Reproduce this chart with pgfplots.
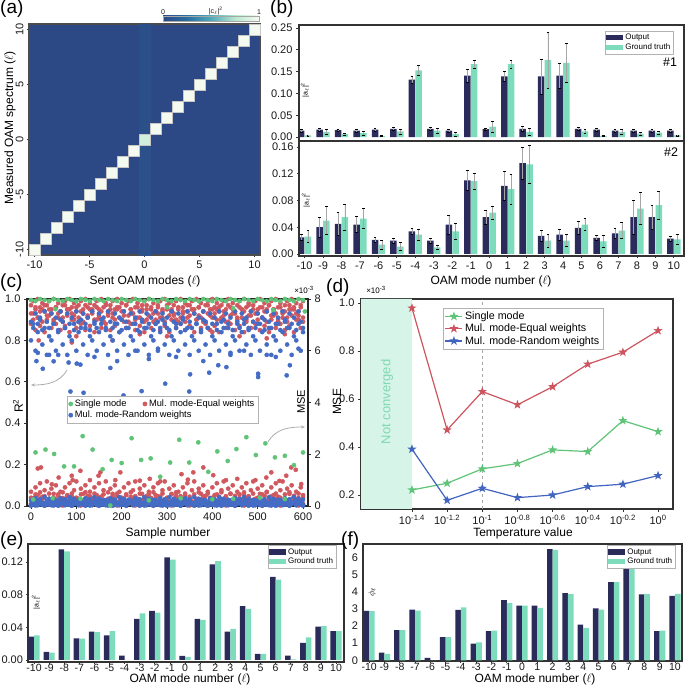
\documentclass[border=0pt]{standalone}
\usepackage{fontspec}
\setmainfont{Liberation Sans}
\usepackage{pgfplots}
\usepackage{pgfplotstable}
\pgfplotsset{compat=1.18}
\usetikzlibrary{arrows.meta}

\definecolor{navy}{RGB}{42,43,90}
\definecolor{mint}{RGB}{125,220,188}
\definecolor{gS}{RGB}{95,195,120}
\definecolor{rS}{RGB}{208,88,95}
\definecolor{bS}{RGB}{68,108,196}
\definecolor{gL}{RGB}{95,195,120}
\definecolor{rL}{RGB}{205,85,95}
\definecolor{bL}{RGB}{65,100,190}
\definecolor{ncfill}{RGB}{214,245,232}
\definecolor{nctext}{RGB}{130,215,180}
\definecolor{hmbg}{RGB}{44,73,133}

\pgfplotsset{colormap={hm}{rgb255=(44,73,133) rgb255=(40,110,160) rgb255=(80,170,185) rgb255=(185,232,205) rgb255=(245,250,240)}}

\pgfdeclareplotmark{fstar}{%
  \pgfpathmoveto{\pgfpoint{0pt}{\pgfplotmarksize}}%
  \pgfpathlineto{\pgfpoint{-0.235\pgfplotmarksize}{0.324\pgfplotmarksize}}%
  \pgfpathlineto{\pgfpoint{-0.951\pgfplotmarksize}{0.309\pgfplotmarksize}}%
  \pgfpathlineto{\pgfpoint{-0.380\pgfplotmarksize}{-0.124\pgfplotmarksize}}%
  \pgfpathlineto{\pgfpoint{-0.588\pgfplotmarksize}{-0.809\pgfplotmarksize}}%
  \pgfpathlineto{\pgfpoint{0pt}{-0.4\pgfplotmarksize}}%
  \pgfpathlineto{\pgfpoint{0.588\pgfplotmarksize}{-0.809\pgfplotmarksize}}%
  \pgfpathlineto{\pgfpoint{0.380\pgfplotmarksize}{-0.124\pgfplotmarksize}}%
  \pgfpathlineto{\pgfpoint{0.951\pgfplotmarksize}{0.309\pgfplotmarksize}}%
  \pgfpathlineto{\pgfpoint{0.235\pgfplotmarksize}{0.324\pgfplotmarksize}}%
  \pgfpathclose
  \pgfusepathqfillstroke}

\newcommand{\tk}{\fontsize{11}{12}\selectfont}
\newcommand{\tks}{\fontsize{10.5}{12}\selectfont}
\newcommand{\lab}{\fontsize{12}{14}\selectfont}
\newcommand{\pan}{\fontsize{19}{22}\selectfont}
\newcommand{\al}{|a\textsubscript{$\ell$}|\textsuperscript{2}}

\pgfplotsset{
  panel/.style={scale only axis, anchor=south west,
    axis line style={-, line width=1.1pt, black!80},
    tick align=outside, major tick length=3pt, tick pos=left,
    tick style={black!80, line width=0.8pt},
    ticklabel style={font=\tk, text=black!90},
    /pgf/number format/assume math mode=true},
  ybar legend/.style={/pgfplots/legend image code/.code={\fill[##1, draw=none] (0pt,-2.6pt) rectangle (17pt,2.6pt);}},
  barleg/.style={
    legend style={draw=gray!60, line width=0.5pt, font=\fontsize{8}{9}\selectfont,
      inner sep=1pt, row sep=-1.5pt, cells={anchor=west}, anchor=north west}},
  errs/.style={error bars/.cd, y dir=both, y explicit,
    error bar style={line width=0.5pt, gray!70},
    error mark options={rotate=90, mark size=1.4pt, black, line width=0.5pt}},
  dots/.style={only marks, mark=*, mark size=2.1pt, forget plot},
  two/.style={/pgf/number format/fixed, /pgf/number format/fixed zerofill, /pgf/number format/precision=2},
  one/.style={/pgf/number format/fixed, /pgf/number format/fixed zerofill, /pgf/number format/precision=1},
}

% panel (b) #1
\pgfplotstableread{
x o oe g ge
-10 0.015 0.003 0.004 0.001
-9 0.017 0.003 0.012 0.005
-8 0.016 0.003 0.007 0.002
-7 0.015 0.003 0.009 0.004
-6 0.017 0.003 0.003 0.001
-5 0.019 0.004 0.013 0.006
-4 0.132 0.008 0.153 0.011
-3 0.019 0.004 0.015 0.006
-2 0.015 0.003 0.007 0.004
-1 0.141 0.015 0.167 0.010
0 0.018 0.003 0.024 0.012
1 0.139 0.011 0.167 0.010
2 0.019 0.005 0.012 0.008
3 0.139 0.040 0.177 0.064
4 0.141 0.029 0.170 0.044
5 0.019 0.004 0.013 0.005
6 0.017 0.003 0.003 0.001
7 0.015 0.003 0.012 0.005
8 0.015 0.003 0.008 0.003
9 0.015 0.003 0.010 0.003
10 0.015 0.003 0.004 0.001
}\tbBa
% panel (b) #2
\pgfplotstableread{
x o oe g ge
-10 0.025 0.005 0.026 0.009
-9 0.040 0.015 0.050 0.021
-8 0.045 0.017 0.055 0.020
-7 0.044 0.012 0.053 0.015
-6 0.021 0.004 0.014 0.007
-5 0.020 0.004 0.011 0.006
-4 0.034 0.005 0.029 0.008
-3 0.020 0.004 0.010 0.003
-2 0.044 0.014 0.034 0.012
-1 0.110 0.015 0.109 0.012
0 0.055 0.010 0.062 0.010
1 0.102 0.022 0.097 0.022
2 0.136 0.024 0.134 0.028
3 0.027 0.008 0.020 0.010
4 0.029 0.008 0.020 0.009
5 0.039 0.010 0.044 0.009
6 0.024 0.004 0.019 0.009
7 0.031 0.008 0.035 0.012
8 0.055 0.025 0.068 0.024
9 0.055 0.018 0.073 0.021
10 0.023 0.004 0.022 0.008
}\tbBb
% panel (e)
\pgfplotstableread{
x o g
-10 0.0285 0.030
-9 0.0098 0.009
-8 0.1355 0.133
-7 0.0265 0.026
-6 0.0346 0.034
-5 0.030 0.0354
-4 0.0053 0
-3 0.0504 0.057
-2 0.060 0.058
-1 0.1257 0.123
0 0.005 0.0037
1 0.0504 0.049
2 0.117 0.121
3 0.0346 0.038
4 0.066 0.0627
5 0.0073 0.0073
6 0.1017 0.0985
7 0.0053 0.0008
8 0.021 0.0277
9 0.0407 0.0415
10 0.0354 0.0354
}\tbE
% panel (f)
\pgfplotstableread{
x o g
-10 2.89 2.87
-9 0.45 0.37
-8 1.76 1.76
-7 2.97 2.91
-6 0.14 0.0
-5 1.35 1.35
-4 2.95 3.10
-3 0.98 1.05
-2 1.70 1.74
-1 3.52 3.34
0 3.20 3.20
1 3.20 3.07
2 6.50 6.46
3 3.93 3.87
4 2.09 1.89
5 3.03 2.97
6 4.57 4.57
7 5.60 5.53
8 3.85 3.89
9 1.70 1.74
10 3.77 3.89
}\tbF
% panel (c): samples; r = equal weights, b = random weights; a-c R^2, d-f MSE (x1e-3)
\pgfplotstableread{
x ra rb rc rd re rf ba bb bc bd be
0 0.97 0.93 0.88 0.08 0.32 0.55 0.89 0.80 0.05 0.22 0.01
5 0.99 0.90 0.93 0.21 0.14 0.31 0.86 0.88 0.12 0.15 0.08
10 0.95 0.96 0.85 0.04 0.45 0.72 0.93 0.75 0.02 0.30 0.14
15 1.00 0.91 0.91 0.15 0.22 0.42 0.88 0.84 0.09 0.18 0.03
20 0.96 0.94 0.87 0.27 0.53 0.88 0.91 0.90 0.16 0.26 0.19
25 0.98 0.89 0.95 0.11 0.27 0.36 0.85 0.78 0.04 0.12 0.06
30 0.94 0.97 0.84 0.02 0.38 0.61 0.94 0.86 0.11 0.34 0.01
35 0.97 0.92 0.90 0.18 0.12 0.95 0.89 0.73 0.07 0.20 0.08
40 0.99 0.95 0.92 0.08 0.48 0.28 0.86 0.82 0.05 0.28 0.14
45 0.95 0.93 0.86 0.21 0.19 0.67 0.93 0.80 0.12 0.16 0.03
50 1.00 0.90 0.89 0.04 0.32 0.47 0.88 0.88 0.02 0.24 0.19
55 0.96 0.96 0.88 0.15 0.14 0.80 0.91 0.75 0.09 0.22 0.06
60 0.98 0.91 0.93 0.27 0.45 0.39 0.85 0.84 0.16 0.15 0.01
65 0.94 0.94 0.85 0.11 0.22 0.55 0.94 0.90 0.04 0.30 0.08
70 0.97 0.89 0.91 0.02 0.53 0.31 0.89 0.78 0.11 0.18 0.14
75 0.99 0.97 0.87 0.18 0.27 0.72 0.86 0.86 0.07 0.26 0.03
80 0.95 0.92 0.95 0.08 0.38 0.42 0.93 0.73 0.05 0.12 0.19
85 1.00 0.95 0.84 0.21 0.12 0.88 0.88 0.82 0.12 0.34 0.06
90 0.96 0.93 0.90 0.04 0.48 0.36 0.91 0.80 0.02 0.20 0.01
95 0.98 0.90 0.92 0.15 0.19 0.61 0.85 0.88 0.09 0.28 0.08
100 0.94 0.96 0.86 0.27 0.32 0.95 0.94 0.75 0.16 0.16 0.14
105 0.97 0.91 0.89 0.11 0.14 0.28 0.89 0.84 0.04 0.24 0.03
110 0.99 0.94 0.88 0.02 0.45 0.67 0.86 0.90 0.11 0.22 0.19
115 0.95 0.89 0.93 0.18 0.22 0.47 0.93 0.78 0.07 0.15 0.06
120 1.00 0.97 0.85 0.08 0.53 0.80 0.88 0.86 0.05 0.30 0.01
125 0.96 0.92 0.91 0.21 0.27 0.39 0.91 0.73 0.12 0.18 0.08
130 0.98 0.95 0.87 0.04 0.38 0.55 0.85 0.82 0.02 0.26 0.14
135 0.94 0.93 0.95 0.15 0.12 0.31 0.94 0.80 0.09 0.12 0.03
140 0.97 0.90 0.84 0.27 0.48 0.72 0.89 0.88 0.16 0.34 0.19
145 0.99 0.96 0.90 0.11 0.19 0.42 0.86 0.75 0.04 0.20 0.06
150 0.95 0.91 0.92 0.02 0.32 0.88 0.93 0.84 0.11 0.28 0.01
155 1.00 0.94 0.86 0.18 0.14 0.36 0.88 0.90 0.07 0.16 0.08
160 0.96 0.89 0.89 0.08 0.45 0.61 0.91 0.78 0.05 0.24 0.14
165 0.98 0.97 0.88 0.21 0.22 0.95 0.85 0.86 0.12 0.22 0.03
170 0.94 0.92 0.93 0.04 0.53 0.28 0.94 0.73 0.02 0.15 0.19
175 0.97 0.95 0.85 0.15 0.27 0.67 0.89 0.82 0.09 0.30 0.06
180 0.99 0.93 0.91 0.27 0.38 0.47 0.86 0.80 0.16 0.18 0.01
185 0.95 0.90 0.87 0.11 0.12 0.80 0.93 0.88 0.04 0.26 0.08
190 1.00 0.96 0.95 0.02 0.48 0.39 0.88 0.75 0.11 0.12 0.14
195 0.96 0.91 0.84 0.18 0.19 0.55 0.91 0.84 0.07 0.34 0.03
200 0.98 0.94 0.90 0.08 0.32 0.31 0.85 0.90 0.05 0.20 0.19
205 0.94 0.89 0.92 0.21 0.14 0.72 0.94 0.78 0.12 0.28 0.06
210 0.97 0.97 0.86 0.04 0.45 0.42 0.89 0.86 0.02 0.16 0.01
215 0.99 0.92 0.89 0.15 0.22 0.88 0.86 0.73 0.09 0.24 0.08
220 0.95 0.95 0.88 0.27 0.53 0.36 0.93 0.82 0.16 0.22 0.14
225 1.00 0.93 0.93 0.11 0.27 0.61 0.88 0.80 0.04 0.15 0.03
230 0.96 0.90 0.85 0.02 0.38 0.95 0.91 0.88 0.11 0.30 0.19
235 0.98 0.96 0.91 0.18 0.12 0.28 0.85 0.75 0.07 0.18 0.06
240 0.94 0.91 0.87 0.08 0.48 0.67 0.94 0.84 0.05 0.26 0.01
245 0.97 0.94 0.95 0.21 0.19 0.47 0.89 0.90 0.12 0.12 0.08
250 0.99 0.89 0.84 0.04 0.32 0.80 0.86 0.78 0.02 0.34 0.14
255 0.95 0.97 0.90 0.15 0.14 0.39 0.93 0.86 0.09 0.20 0.03
260 1.00 0.92 0.92 0.27 0.45 0.55 0.88 0.73 0.16 0.28 0.19
265 0.96 0.95 0.86 0.11 0.22 0.31 0.91 0.82 0.04 0.16 0.06
270 0.98 0.93 0.89 0.02 0.53 0.72 0.85 0.80 0.11 0.24 0.01
275 0.94 0.90 0.88 0.18 0.27 0.42 0.94 0.88 0.07 0.22 0.08
280 0.97 0.96 0.93 0.08 0.38 0.88 0.89 0.75 0.05 0.15 0.14
285 0.99 0.91 0.85 0.21 0.12 0.36 0.86 0.84 0.12 0.30 0.03
290 0.95 0.94 0.91 0.04 0.48 0.61 0.93 0.90 0.02 0.18 0.19
295 1.00 0.89 0.87 0.15 0.19 0.95 0.88 0.78 0.09 0.26 0.06
300 0.96 0.97 0.95 0.27 0.32 0.28 0.91 0.86 0.16 0.12 0.01
305 0.98 0.92 0.84 0.11 0.14 0.67 0.85 0.73 0.04 0.34 0.08
310 0.94 0.95 0.90 0.02 0.45 0.47 0.94 0.82 0.11 0.20 0.14
315 0.97 0.93 0.92 0.18 0.22 0.80 0.89 0.80 0.07 0.28 0.03
320 0.99 0.90 0.86 0.08 0.53 0.39 0.86 0.88 0.05 0.16 0.19
325 0.95 0.96 0.89 0.21 0.27 0.55 0.93 0.75 0.12 0.24 0.06
330 1.00 0.91 0.88 0.04 0.38 0.31 0.88 0.84 0.02 0.22 0.01
335 0.96 0.94 0.93 0.15 0.12 0.72 0.91 0.90 0.09 0.15 0.08
340 0.98 0.89 0.85 0.27 0.48 0.42 0.85 0.78 0.16 0.30 0.14
345 0.94 0.97 0.91 0.11 0.19 0.88 0.94 0.86 0.04 0.18 0.03
350 0.97 0.92 0.87 0.02 0.32 0.36 0.89 0.73 0.11 0.26 0.19
355 0.99 0.95 0.95 0.18 0.14 0.61 0.86 0.82 0.07 0.12 0.06
360 0.95 0.93 0.84 0.08 0.45 0.95 0.93 0.80 0.05 0.34 0.01
365 1.00 0.90 0.90 0.21 0.22 0.28 0.88 0.88 0.12 0.20 0.08
370 0.96 0.96 0.92 0.04 0.53 0.67 0.91 0.75 0.02 0.28 0.14
375 0.98 0.91 0.86 0.15 0.27 0.47 0.85 0.84 0.09 0.16 0.03
380 0.94 0.94 0.89 0.27 0.38 0.80 0.94 0.90 0.16 0.24 0.19
385 0.97 0.89 0.88 0.11 0.12 0.39 0.89 0.78 0.04 0.22 0.06
390 0.99 0.97 0.93 0.02 0.48 0.55 0.86 0.86 0.11 0.15 0.01
395 0.95 0.92 0.85 0.18 0.19 0.31 0.93 0.73 0.07 0.30 0.08
400 1.00 0.95 0.91 0.08 0.32 0.72 0.88 0.82 0.05 0.18 0.14
405 0.96 0.93 0.87 0.21 0.14 0.42 0.91 0.80 0.12 0.26 0.03
410 0.98 0.90 0.95 0.04 0.45 0.88 0.85 0.88 0.02 0.12 0.19
415 0.94 0.96 0.84 0.15 0.22 0.36 0.94 0.75 0.09 0.34 0.06
420 0.97 0.91 0.90 0.27 0.53 0.61 0.89 0.84 0.16 0.20 0.01
425 0.99 0.94 0.92 0.11 0.27 0.95 0.86 0.90 0.04 0.28 0.08
430 0.95 0.89 0.86 0.02 0.38 0.28 0.93 0.78 0.11 0.16 0.14
435 1.00 0.97 0.89 0.18 0.12 0.67 0.88 0.86 0.07 0.24 0.03
440 0.96 0.92 0.88 0.08 0.48 0.47 0.91 0.73 0.05 0.22 0.19
445 0.98 0.95 0.93 0.21 0.19 0.80 0.85 0.82 0.12 0.15 0.06
450 0.94 0.93 0.85 0.04 0.32 0.39 0.94 0.80 0.02 0.30 0.01
455 0.97 0.90 0.91 0.15 0.14 0.55 0.89 0.88 0.09 0.18 0.08
460 0.99 0.96 0.87 0.27 0.45 0.31 0.86 0.75 0.16 0.26 0.14
465 0.95 0.91 0.95 0.11 0.22 0.72 0.93 0.84 0.04 0.12 0.03
470 1.00 0.94 0.84 0.02 0.53 0.42 0.88 0.90 0.11 0.34 0.19
475 0.96 0.89 0.90 0.18 0.27 0.88 0.91 0.78 0.07 0.20 0.06
480 0.98 0.97 0.92 0.08 0.38 0.36 0.85 0.86 0.05 0.28 0.01
485 0.94 0.92 0.86 0.21 0.12 0.61 0.94 0.73 0.12 0.16 0.08
490 0.97 0.95 0.89 0.04 0.48 0.95 0.89 0.82 0.02 0.24 0.14
495 0.99 0.93 0.88 0.15 0.19 0.28 0.86 0.80 0.09 0.22 0.03
500 0.95 0.90 0.93 0.27 0.32 0.67 0.93 0.88 0.16 0.15 0.19
505 1.00 0.96 0.85 0.11 0.14 0.47 0.88 0.75 0.04 0.30 0.06
510 0.96 0.91 0.91 0.02 0.45 0.80 0.91 0.84 0.11 0.18 0.01
515 0.98 0.94 0.87 0.18 0.22 0.39 0.85 0.90 0.07 0.26 0.08
520 0.94 0.89 0.95 0.08 0.53 0.55 0.94 0.78 0.05 0.12 0.14
525 0.97 0.97 0.84 0.21 0.27 0.31 0.89 0.86 0.12 0.34 0.03
530 0.99 0.92 0.90 0.04 0.38 0.72 0.86 0.73 0.02 0.20 0.19
535 0.95 0.95 0.92 0.15 0.12 0.42 0.93 0.82 0.09 0.28 0.06
540 1.00 0.93 0.86 0.27 0.48 0.88 0.88 0.80 0.16 0.16 0.01
545 0.96 0.90 0.89 0.11 0.19 0.36 0.91 0.88 0.04 0.24 0.08
550 0.98 0.96 0.88 0.02 0.32 0.61 0.85 0.75 0.11 0.22 0.14
555 0.94 0.91 0.93 0.18 0.14 0.95 0.94 0.84 0.07 0.15 0.03
560 0.97 0.94 0.85 0.08 0.45 0.28 0.89 0.90 0.05 0.30 0.19
565 0.99 0.89 0.91 0.21 0.22 0.67 0.86 0.78 0.12 0.18 0.06
570 0.95 0.97 0.87 0.04 0.53 0.47 0.93 0.86 0.02 0.26 0.01
575 1.00 0.92 0.95 0.15 0.27 0.80 0.88 0.73 0.09 0.12 0.08
580 0.96 0.95 0.84 0.27 0.38 0.39 0.91 0.82 0.16 0.34 0.14
585 0.98 0.93 0.90 0.11 0.12 0.55 0.85 0.80 0.04 0.20 0.03
590 0.94 0.90 0.92 0.02 0.48 0.31 0.94 0.88 0.11 0.28 0.19
595 0.97 0.96 0.86 0.18 0.19 0.72 0.89 0.75 0.07 0.16 0.06
600 0.99 0.91 0.89 0.08 0.32 0.42 0.86 0.84 0.05 0.24 0.01
}\tbC

\begin{document}
\begin{tikzpicture}
\path[use as bounding box] (0pt,0pt) rectangle (685pt,685pt);

% ---------------- (a) heatmap
\begin{axis}[panel, at={(29pt,430pt)}, width=231pt, height=231pt,
  xmin=-10.5, xmax=10.5, ymin=-10.5, ymax=10.5,
  xtick={-10,-5,0,5,10}, ytick={-10,-5,0,5,10}, major tick length=2pt,
  yticklabel style={rotate=90, anchor=south},
  axis line style={-, line width=1.2pt, black!70},
  axis background/.style={fill=hmbg},
  colormap name=hm, point meta min=0, point meta max=1,
  colorbar horizontal,
  colorbar style={at={(0.58,1.013)}, anchor=south west, scale only axis,
    width=96pt, height=5pt, xtick={0,0.55,1},
    xticklabels={0,{|c\textsubscript{$\ell$}|\textsuperscript{2}},1},
    xticklabel pos=upper, major tick length=0pt,
    xticklabel style={font=\fontsize{7}{8}\selectfont, inner sep=1pt},
    axis line style={gray!70, line width=0.4pt}},
]
\addplot[scatter, only marks, mark=square*, mark size=5.5pt, point meta=explicit,
  scatter/use mapped color={draw=mapped color, fill=mapped color}]
 coordinates {(0,-10)[0.05] (0,-9)[0.05] (0,-8)[0.05] (0,-7)[0.05] (0,-6)[0.05]
 (0,-5)[0.05] (0,-4)[0.05] (0,-3)[0.05] (0,-2)[0.05] (0,-1)[0.05]
 (0,1)[0.04] (0,2)[0.04] (0,3)[0.04] (0,4)[0.04] (0,5)[0.04]
 (0,6)[0.04] (0,7)[0.04] (0,8)[0.04] (0,9)[0.04] (0,10)[0.04]};
\addplot[scatter, only marks, mark=square*, mark size=5.5pt, point meta=explicit,
  scatter/use mapped color={draw=gray!45, fill=mapped color, line width=0.4pt}]
 coordinates {(-10,-10)[1] (-9,-9)[1] (-8,-8)[1] (-7,-7)[1] (-6,-6)[1] (-5,-5)[1]
 (-4,-4)[1] (-3,-3)[1] (-2,-2)[1] (-1,-1)[1] (0,0)[0.85] (1,1)[1] (2,2)[1]
 (3,3)[1] (4,4)[1] (5,5)[1] (6,6)[1] (7,7)[1] (8,8)[1] (9,9)[1] (10,10)[1]};
\end{axis}

% ---------------- (b) top
\begin{axis}[panel, barleg, at={(299pt,544pt)}, width=385pt, height=116pt,
  xmin=-10.3, xmax=10.55, ymin=-0.009, ymax=0.257, xtick=\empty,
  ytick={0,0.05,0.1,0.15,0.2,0.25}, yticklabel style={two},
  ybar, bar width=6.5pt,
  legend style={at={(0.795,0.948)}}]
\addplot[fill=navy, draw=none, bar shift=-3.4pt, errs] table[x=x,y=o,y error=oe]{\tbBa};
\addplot[fill=mint, draw=none, bar shift=3.4pt, errs] table[x=x,y=g,y error=ge]{\tbBa};
\legend{Output, Ground truth}
\end{axis}

% ---------------- (b) bottom
\begin{axis}[panel, at={(299pt,429pt)}, width=385pt, height=115pt,
  xmin=-10.3, xmax=10.55, ymin=-0.003, ymax=0.169,
  xtick={-10,-9,-8,-7,-6,-5,-4,-3,-2,-1,0,1,2,3,4,5,6,7,8,9,10}, major tick length=2pt,
  ytick={0,0.04,0.08,0.12,0.16}, yticklabel style={two},
  ybar, bar width=6.5pt]
\addplot[fill=navy, draw=none, bar shift=-3.4pt, errs] table[x=x,y=o,y error=oe]{\tbBb};
\addplot[fill=mint, draw=none, bar shift=3.4pt, errs] table[x=x,y=g,y error=ge]{\tbBb};
\end{axis}

% ---------------- (c) R^2
\begin{axis}[panel, at={(27pt,179pt)}, width=281pt, height=207pt,
  xmin=-8.8, xmax=611, ymin=0, ymax=1,
  xtick={0,100,200,300,400,500,600}, ytick={0,0.2,0.4,0.6,0.8,1},
  yticklabel style={one},
  axis line style={-, line width=1.3pt, black!85},
  legend columns=2,
  legend style={at={(0.142,0.531)}, anchor=north west, draw=gray!60, line width=0.5pt,
    font=\fontsize{9.3}{10.5}\selectfont, inner sep=1.5pt, row sep=-1pt,
    cells={anchor=west}, /tikz/every even column/.append style={column sep=14pt}}]
\addlegendimage{only marks, mark=*, mark size=2.1pt, color=gS}
\addlegendentry{Single mode}
\addlegendimage{only marks, mark=*, mark size=2.1pt, color=rS}
\addlegendentry{Mul. mode-Equal weights}
\addlegendimage{only marks, mark=*, mark size=2.1pt, color=bS}
\addlegendentry{\makebox[52pt][l]{Mul. mode-Random weights}}
\addplot[dots, color=rS] table[x=x,y=ra]{\tbC};
\addplot[dots, color=rS] table[x=x,y=rb]{\tbC};
\addplot[dots, color=rS] table[x=x,y=rc]{\tbC};
\addplot[dots, color=rS] coordinates {(17,0.80)(90,0.79)(100,0.82)(180,0.80)(300,0.82)(400,0.84)(520,0.81)(560,0.83)(240,0.83)(460,0.82)};
\addplot[dots, color=bS] table[x=x,y=ba]{\tbC};
\addplot[dots, color=bS] table[x=x,y=bb]{\tbC};
\addplot[dots, color=bS] coordinates {(26,0.663)(50,0.699)(83,0.693)(101,0.688)(109,0.683)(175,0.667)
 (87,0.553)(116,0.547)(204,0.534)(244,0.555)(296,0.591)(349,0.553)(351,0.636)(393,0.644)
 (413,0.680)(431,0.671)(501,0.639)(501,0.623)(564,0.631)(571,0.680)
 (15,0.74)(40,0.73)(60,0.73)(140,0.72)(230,0.75)(280,0.76)(320,0.72)(440,0.74)(470,0.75)
 (540,0.72)(590,0.76)(12,0.70)(190,0.70)(260,0.71)(380,0.70)(520,0.73)};
\addplot[dots, color=gS] coordinates {(0,0.995)(10,0.99)(20,1)(30,0.995)(40,0.99)(50,1)(60,0.995)
 (70,0.99)(80,1)(90,0.995)(100,0.99)(110,1)(120,0.995)(130,0.99)(140,1)(150,0.995)(160,0.99)
 (170,1)(180,0.995)(190,0.99)(200,1)(210,0.995)(220,0.99)(230,1)(240,0.995)(250,0.99)(260,1)
 (270,0.995)(280,0.99)(290,1)(300,0.995)(310,0.99)(320,1)(330,0.995)(340,0.99)(350,1)
 (360,0.995)(370,0.99)(380,1)(390,0.995)(400,0.99)(410,1)(420,0.995)(430,0.99)(440,1)
 (450,0.995)(460,0.99)(470,1)(480,0.995)(490,0.99)(500,1)(510,0.995)(520,0.99)(530,1)
 (540,0.995)(550,0.99)(560,1)(570,0.995)(580,0.99)(590,1)(600,0.995)
 (54,0.951)(300,0.96)(446,0.955)(534,0.947)(604,0.94)};
\end{axis}

% ---------------- (c) MSE
\begin{axis}[panel, at={(27pt,179pt)}, width=281pt, height=207pt,
  xmin=-8.8, xmax=611, ymin=0, ymax=8,
  axis x line=none, axis y line*=right, tick pos=right,
  ytick pos=right, yticklabel pos=right, ytick={0,2,4,6,8},
  axis line style={-, line width=1.3pt, black!85}]
\addplot[dots, color=rS] table[x=x,y=rd]{\tbC};
\addplot[dots, color=rS] table[x=x,y=re]{\tbC};
\addplot[dots, color=rS] table[x=x,y=rf]{\tbC};
\addplot[dots, color=rS] coordinates {(15,1.45)(22,1.49)(46,0.84)(61,1.10)(90,1.17)(92,1.0)(109,1.36)
 (130,1.0)(149,1.17)(153,1.30)(186,1.0)(197,1.30)(240,0.98)(262,1.05)(285,0.95)(332,1.23)
 (346,1.02)(358,1.30)(380,1.49)(402,1.19)(430,1.0)(455,1.05)(495,1.0)(519,1.10)(530,1.30)
 (548,0.97)(563,1.17)(574,1.49)(584,1.40)(596,0.85)};
\addplot[dots, color=bS] table[x=x,y=bc]{\tbC};
\addplot[dots, color=bS] table[x=x,y=bd]{\tbC};
\addplot[dots, color=bS] table[x=x,y=be]{\tbC};
\addplot[dots, color=gS] coordinates {(10,2.07)(32,2.18)(51,2.01)(73,1.53)(95,1.53)(114,2.70)(136,2.18)
 (158,1.42)(178,1.78)(200,1.66)(222,2.62)(243,1.78)(264,1.84)(285,1.13)(307,1.68)(327,2.56)
 (349,1.68)(369,2.46)(391,1.32)(411,2.11)(434,1.74)(453,2.20)(475,2.66)(496,1.97)(517,2.42)
 (538,1.88)(560,1.94)(580,1.58)(600,2.07)
 (5,0.25)(48,0.30)(109,0.28)(175,0.02)(260,0.22)(330,0.30)(400,0.26)(446,0.28)(505,0.32)(560,0.27)};
\end{axis}

% ---------------- (d)
\begin{axis}[panel, at={(361pt,176pt)}, width=312pt, height=210pt,
  xmin=-1.69, xmax=0.085, ymin=0.1417, ymax=1.0167,
  xtick={-1.4,-1.2,-1,-0.8,-0.6,-0.4,-0.2,0},
  xticklabels={10\textsuperscript{-1.4},10\textsuperscript{-1.2},10\textsuperscript{-1},10\textsuperscript{-0.8},10\textsuperscript{-0.6},10\textsuperscript{-0.4},10\textsuperscript{-0.2},10\textsuperscript{0}},
  ytick={0.2,0.4,0.6,0.8,1}, yticklabel style={one},
  axis line style={-, line width=1.3pt, black!80},
  legend style={at={(0.263,0.957)}, anchor=north west, draw=gray!60, line width=0.5pt,
    font=\fontsize{10.7}{12}\selectfont, inner sep=1.5pt, row sep=-1pt, cells={anchor=west}}]
\addplot[fill=ncfill, draw=none, forget plot] coordinates {(-1.69,0.1417) (-1.4,0.1417) (-1.4,1.0167) (-1.69,1.0167)} \closedcycle;
\addplot[gray!70, dashed, line width=0.8pt, forget plot] coordinates {(-1,0.1417) (-1,1.0167)};
\addplot[gL, line width=1.2pt, mark=fstar, mark size=3pt] coordinates {(-1.4,0.221)(-1.2,0.249)(-1,0.309)(-0.8,0.331)(-0.6,0.388)(-0.4,0.381)(-0.2,0.510)(0,0.464)};
\addplot[rL, line width=1.2pt, mark=fstar, mark size=3pt] coordinates {(-1.4,0.979)(-1.2,0.471)(-1,0.631)(-0.8,0.576)(-0.6,0.651)(-0.4,0.745)(-0.2,0.795)(0,0.885)};
\addplot[bL, line width=1.2pt, mark=fstar, mark size=3pt] coordinates {(-1.4,0.391)(-1.2,0.178)(-1,0.228)(-0.8,0.189)(-0.6,0.200)(-0.4,0.235)(-0.2,0.245)(0,0.281)};
\legend{Single mode, Mul. mode-Equal weights, Mul. mode-Random weights}
\end{axis}

% ---------------- (e)
\begin{axis}[panel, barleg, at={(28pt,23pt)}, width=316pt, height=118pt,
  xmin=-10.4, xmax=10.53, ymin=-0.0025, ymax=0.142,
  xtick={-10,-9,-8,-7,-6,-5,-4,-3,-2,-1,0,1,2,3,4,5,6,7,8,9,10}, major tick length=1.5pt,
  xticklabel style={font=\tks, inner sep=0.5pt},
  ytick={0,0.04,0.08,0.12}, yticklabel style={two},
  ybar, bar width=5.6pt,
  legend style={at={(0.759,0.99)}}]
\addplot[fill=navy, draw=none, bar shift=-2.8pt] table[x=x,y=o]{\tbE};
\addplot[fill=mint, draw=none, bar shift=2.8pt] table[x=x,y=g]{\tbE};
\legend{Output, Ground truth}
\end{axis}

% ---------------- (f)
\begin{axis}[panel, barleg, at={(363pt,24pt)}, width=319pt, height=117pt,
  xmin=-10.4, xmax=10.46, ymin=-0.04, ymax=6.8,
  xtick={-10,-9,-8,-7,-6,-5,-4,-3,-2,-1,0,1,2,3,4,5,6,7,8,9,10}, major tick length=1.5pt,
  xticklabel style={font=\tks, inner sep=0.5pt},
  ytick={0,1,2,3,4,5,6},
  ybar, bar width=5.6pt,
  legend style={at={(0.765,0.99)}}]
\addplot[fill=navy, draw=none, bar shift=-2.8pt] table[x=x,y=o]{\tbF};
\addplot[fill=mint, draw=none, bar shift=2.8pt] table[x=x,y=g]{\tbF};
\legend{Output, Ground truth}
\end{axis}

% ---------------- texts
\begin{scope}[every node/.style={inner sep=0pt}]
\node[font=\pan, anchor=north west] at (0pt,685pt) {(a)};
\node[font=\pan, anchor=north west] at (270pt,685pt) {(b)};
\node[font=\pan, anchor=north west] at (0pt,411pt) {(c)};
\node[font=\pan, anchor=north west] at (326pt,406pt) {(d)};
\node[font=\pan, anchor=north west] at (0pt,153pt) {(e)};
\node[font=\pan, anchor=north west] at (341pt,153pt) {(f)};

\node[font=\lab] at (145pt,404pt) {Sent OAM modes ($\ell$)};
\node[font=\lab] at (491pt,404pt) {OAM mode number ($\ell$)};
\node[font=\lab] at (168pt,152pt) {Sample number};
\node[font=\lab] at (523pt,152pt) {Temperature value};
\node[font=\lab] at (190pt,6pt) {OAM mode number ($\ell$)};
\node[font=\lab] at (535pt,6pt) {OAM mode number ($\ell$)};

\node[font=\lab, rotate=90] at (10pt,557pt) {Measured OAM spectrum ($\ell$)};
\node[font=\fontsize{7}{8}\selectfont, rotate=90] at (305pt,595pt) {\al};
\node[font=\fontsize{7}{8}\selectfont, rotate=90] at (306pt,485pt) {\al};
\node[font=\fontsize{7}{8}\selectfont, rotate=90] at (36pt,83pt) {\al};
\node[font=\fontsize{9}{10}\selectfont, rotate=90] at (372pt,93pt) {$\phi_\ell$};
\node[font=\fontsize{12.5}{14}\selectfont] at (670pt,623pt) {\#1};
\node[font=\fontsize{12.5}{14}\selectfont] at (671pt,533pt) {\#2};

\node[font=\lab, rotate=90] at (18pt,279pt) {R\textsuperscript{2}};
\node[font=\fontsize{11}{12}\selectfont, rotate=90] at (301pt,283pt) {MSE};
\node[font=\fontsize{8}{9}\selectfont] at (304pt,395pt) {×10\textsuperscript{-3}};
\node[font=\lab, rotate=90] at (337pt,283pt) {MSE};
\node[font=\fontsize{8}{9}\selectfont] at (376pt,395pt) {×10\textsuperscript{-3}};
\node[font=\fontsize{13}{14}\selectfont, rotate=90, text=nctext] at (387pt,283pt) {Not converged};
\end{scope}

\draw[gray!65, line width=0.8pt, -{Stealth[length=4pt]}] (67pt,315pt) to[out=-120, in=0] (31pt,300pt);
\draw[gray!65, line width=0.8pt, -{Stealth[length=4pt]}] (268pt,243pt) to[out=60, in=180] (305pt,258pt);
\end{tikzpicture}
\end{document}
